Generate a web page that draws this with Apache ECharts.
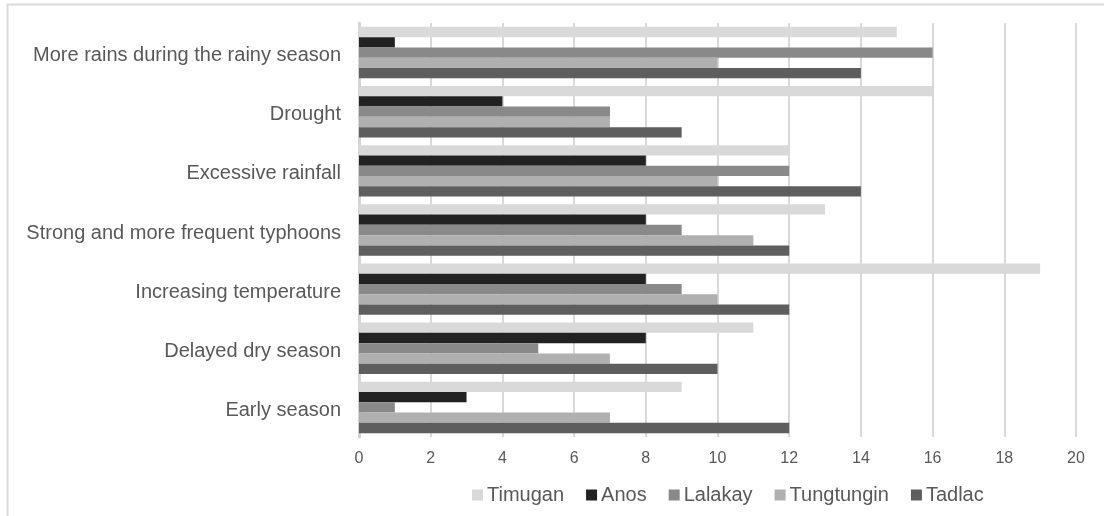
<!DOCTYPE html>
<html>
<head>
<meta charset="utf-8">
<script src="https://cdn.jsdelivr.net/npm/echarts@6/dist/echarts.min.js"></script>
<style>
  html, body { margin: 0; padding: 0; background: #fff; }
  #chart { width: 1104px; height: 516px; }
</style>
</head>
<body>
<div id="chart"></div>
<script>
// Perceived climate changes, counts by village
const categories = [
  'More rains during the rainy season',
  'Drought',
  'Excessive rainfall',
  'Strong and more frequent typhoons',
  'Increasing temperature',
  'Delayed dry season',
  'Early season'
];
const timugan    = [15, 16, 12, 13, 19, 11, 9];
const anos       = [1, 4, 8, 8, 8, 8, 3];
const lalakay    = [16, 7, 12, 9, 9, 5, 1];
const tungtungin = [10, 7, 10, 11, 10, 7, 7];
const tadlac     = [14, 9, 14, 12, 12, 10, 12];

const seriesNames  = ['Timugan', 'Anos', 'Lalakay', 'Tungtungin', 'Tadlac'];
const seriesData   = [timugan, anos, lalakay, tungtungin, tadlac];
const seriesColors = ['#d9d9d9', '#222222', '#898989', '#b0b0b0', '#5e5e5e'];

const textColor = '#595959';
const fontFamily = '"Liberation Sans", Arial, sans-serif';

const chart = echarts.init(document.getElementById('chart'), null, { renderer: 'canvas' });

chart.setOption({
  animation: false,
  backgroundColor: '#ffffff',
  grid: { left: 359, right: 28, top: 23, bottom: 79, containLabel: false },
  legend: {
    data: seriesNames,
    left: 467,
    top: 480,
    itemWidth: 11,
    itemHeight: 11,
    itemGap: 22,
    icon: 'rect',
    textStyle: { color: textColor, fontSize: 20, fontFamily: fontFamily, padding: [0, 0, 0, -1] }
  },
  xAxis: {
    type: 'value',
    min: 0,
    max: 20,
    interval: 2,
    axisLine: { show: false },
    axisTick: { show: false },
    axisLabel: { color: textColor, fontSize: 16, fontFamily: fontFamily, margin: 14 },
    splitLine: { show: true, lineStyle: { color: '#d9d9d9', width: 2 } }
  },
  yAxis: {
    type: 'category',
    data: categories,
    inverse: true,
    axisLine: { show: true, lineStyle: { color: '#d4d4d4', width: 3 } },
    axisTick: { show: false },
    axisLabel: {
      color: textColor,
      fontSize: 20,
      fontFamily: fontFamily,
      margin: 18,
      formatter: (v) => '{c|' + v + '}',
      rich: {
        c: { color: textColor, fontSize: 20, fontFamily: fontFamily, padding: [6, 0, 0, 0] }
      }
    },
    splitLine: { show: false }
  },
  series: seriesNames.map((name, i) => ({
    name: name,
    type: 'bar',
    data: seriesData[i],
    barGap: '0%',
    barCategoryGap: '13%',
    itemStyle: { color: seriesColors[i] }
  })),
  graphic: [
    { type: 'line', shape: { x1: 7, y1: 4.5, x2: 1104, y2: 4.5 }, style: { stroke: '#d9d9d9', lineWidth: 2 } },
    { type: 'line', shape: { x1: 7.5, y1: 4, x2: 7.5, y2: 516 }, style: { stroke: '#d9d9d9', lineWidth: 2 } }
  ]
});
</script>
</body>
</html>
